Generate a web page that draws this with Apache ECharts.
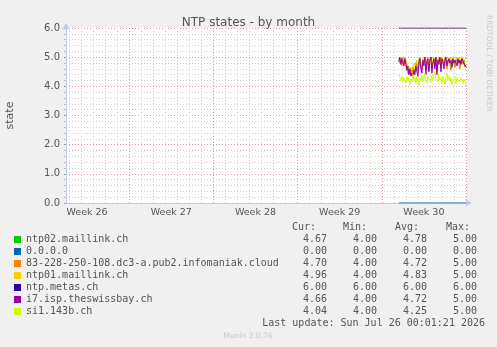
<!DOCTYPE html>
<html>
<head>
<meta charset="utf-8">
<script src="https://cdn.jsdelivr.net/npm/echarts@6/dist/echarts.min.js"></script>
<style>
html,body{margin:0;padding:0;background:#f0f0f0;}
#chart{width:497px;height:347px;}
</style>
</head>
<body>
<div id="chart"></div>
<script>
// ---- data ----
const title = 'NTP states - by month';
const yAxisName = 'state';
const weekLabels = ['Week 26', 'Week 27', 'Week 28', 'Week 29', 'Week 30'];
const binCount = 401;          // 2-hour bins across the plot
const offsetBins = 21;         // bins from the start of Week 26 to the left edge
const binsPerDay = 12;
const binsPerWeek = 84;
const startBin = 332;          // first bin with data

const seriesNames = ['ntp02.maillink.ch', '0.0.0.0', '83-228-250-108.dc3-a.pub2.infomaniak.cloud',
  'ntp01.maillink.ch', 'ntp.metas.ch', 'i7.isp.theswissbay.ch', 'si1.143b.ch'];
const seriesColors = ['#00cc00', '#0066b3', '#ff8000', '#ffcc00', '#330099', '#990099', '#ccff00'];

const ntp02 = [4.95,5.0,4.8,4.9,5.0,4.75,4.9,4.85,4.7,4.55, 4.6,4.45,4.6,4.5,4.65,4.7,4.5,4.8,4.85,4.6,
  4.9,5.0,4.75,4.6,4.85,4.8,5.0,4.65,4.9,4.95, 4.6,4.9,5.0,4.7,4.85,4.95,4.75,5.0,4.55,4.9,
  4.85,5.0,4.75,4.95,4.9,4.7,5.0,4.9,4.8,4.9, 4.95,4.85,4.7,4.9,4.95,4.9,4.75,4.85,4.95,4.8,
  4.9,4.75,4.85,4.95,4.8,4.9,4.75,4.67];
const zeroHost = [0,0,0,0,0,0,0,0,0,0, 0,0,0,0,0,0,0,0,0,0, 0,0,0,0,0,0,0,0,0,0, 0,0,0,0,0,0,0,0,0,0,
  0,0,0,0,0,0,0,0,0,0, 0,0,0,0,0,0,0,0,0,0, 0,0,0,0,0,0,0,0];
const infomaniak = [4.9,4.8,4.95,4.7,5.0,4.85,4.75,4.9,4.6,4.45, 4.55,4.4,4.5,4.35,4.6,4.45,4.55,4.6,4.75,4.5,
  4.7,4.9,4.65,4.55,4.8,4.75,4.9,4.6,4.8,4.95, 4.55,4.85,4.95,4.65,4.75,4.9,4.7,4.95,4.5,4.85,
  4.8,4.95,4.65,4.9,4.8,4.7,4.95,4.9,4.6,4.8, 4.9,4.75,4.55,4.8,4.9,4.85,4.65,4.8,4.9,4.75,
  4.85,4.6,4.8,4.9,4.75,4.85,4.65,4.70];
const ntp01 = [5.0,4.95,4.9,5.0,4.85,4.9,5.0,4.95,4.8,4.6, 4.7,4.5,4.65,4.55,4.7,4.8,4.6,4.75,4.9,4.7,
  4.85,5.0,4.8,4.7,4.95,4.85,5.0,4.75,4.9,5.0, 4.7,4.95,5.0,4.8,4.9,5.0,4.85,5.0,4.7,4.95,
  4.9,5.0,4.8,5.0,4.95,4.85,5.0,4.95,4.9,4.95, 5.0,4.9,5.0,4.85,5.0,4.95,5.0,4.9,4.85,5.0,
  4.95,4.9,5.0,4.95,5.0,4.9,4.85,4.96];
const metas = [6,6,6,6,6,6,6,6,6,6, 6,6,6,6,6,6,6,6,6,6, 6,6,6,6,6,6,6,6,6,6, 6,6,6,6,6,6,6,6,6,6,
  6,6,6,6,6,6,6,6,6,6, 6,6,6,6,6,6,6,6,6,6, 6,6,6,6,6,6,6,6];
const swissbay = [4.85,5.0,4.75,4.95,4.9,4.7,4.95,5.0,4.55,4.7, 4.4,4.6,4.35,4.45,4.3,4.55,4.4,4.7,4.5,4.35,
  4.8,4.95,4.6,4.45,4.9,4.7,5.0,4.4,4.85,4.95, 4.5,4.9,5.0,4.45,4.8,4.95,4.6,5.0,4.4,4.9,
  4.75,5.0,4.5,4.95,4.85,4.6,4.9,5.0,4.7,4.85, 4.95,4.8,4.9,4.65,4.95,4.8,4.9,4.85,4.7,4.95,
  4.8,4.9,4.75,4.95,4.85,4.9,4.7,4.66];
const si1 = [4.4,4.3,4.2,4.35,4.15,4.3,4.25,4.1,4.35,4.2, 4.3,4.05,4.25,4.15,4.4,4.2,4.3,4.1,4.35,4.25,
  4.05,4.3,4.2,4.4,4.15,4.3,4.45,4.2,4.1,4.35, 4.25,4.3,4.15,4.4,4.2,4.35,4.5,4.25,4.3,4.15,
  4.4,4.2,4.3,4.1,4.35,4.25,4.05,4.3,4.45,4.2, 4.35,4.15,4.3,4.05,4.25,4.2,4.35,4.1,4.3,4.2,
  4.25,4.15,4.3,4.2,4.1,4.25,4.15,4.04];
const seriesValues = [ntp02, zeroHost, infomaniak, ntp01, metas, swissbay, si1];

const statHeaders = ['Cur:', 'Min:', 'Avg:', 'Max:'];
const curVals = ['4.67', '0.00', '4.70', '4.96', '6.00', '4.66', '4.04'];
const minVals = ['4.00', '0.00', '4.00', '4.00', '6.00', '4.00', '4.00'];
const avgVals = ['4.78', '0.00', '4.72', '4.83', '6.00', '4.72', '4.25'];
const maxVals = ['5.00', '0.00', '5.00', '5.00', '6.00', '5.00', '5.00'];
const lastUpdate = 'Last update: Sun Jul 26 00:01:21 2026';
const footer = 'Munin 2.0.76';
const sideText = 'RRDTOOL / TOBI OETIKER';

// ---- build ----
const categories = Array.from({length: binCount}, (_, i) => i);
function placeSeries(vals) {
  const arr = new Array(binCount).fill(null);
  vals.forEach((v, k) => { arr[startBin + k] = v; });
  return arr;
}

const mono = 'DejaVu Sans Mono';
const sans = 'DejaVu Sans';
const textColor = '#555';
const axisColor = '#c0c8ee';
const redGrid = 'rgba(225,110,110,0.75)';
const grayGrid = '#cfcfcf';

function txt(x, y, text, font, fill, align) {
  return {type: 'text', x: x, y: y,
    style: {text: text, font: font, fill: fill, align: align, verticalAlign: 'middle',
      textAlign: align, textVerticalAlign: 'middle'}};
}
const graphics = [];
const headerRight = [316, 367, 419, 470];
const colRight = [327, 377, 427, 477];
statHeaders.forEach((h, c) => graphics.push(txt(headerRight[c], 227, h, '10px ' + mono, textColor, 'right')));
[curVals, minVals, avgVals, maxVals].forEach((col, c) => {
  col.forEach((v, r) => graphics.push(txt(colRight[c], 239.5 + 12 * r, v, '10px ' + mono, textColor, 'right')));
});
graphics.push(txt(485, 323.5, lastUpdate, '10px ' + mono, textColor, 'right'));
graphics.push(txt(248, 336, footer, '7.5px ' + sans, '#c8c8c8', 'center'));
const side = txt(488.5, 15, sideText, '7.5px ' + sans, '#c8c8c8', 'left');
side.rotation = -Math.PI / 2;
graphics.push(side);

const chart = echarts.init(document.getElementById('chart'), null, {renderer: 'canvas'});
chart.setOption({
  animation: false,
  backgroundColor: '#f0f0f0',
  title: {text: title, left: 'center', top: 12,
    textStyle: {fontFamily: sans, fontSize: 12, fontWeight: 'normal', color: textColor}},
  grid: {left: 66, right: 30, top: 28, bottom: 144, show: true, backgroundColor: '#ffffff', borderWidth: 0,
    containLabel: false, outerBoundsMode: 'none'},
  legend: {
    orient: 'vertical', left: 14, top: 233.5, padding: 0, itemGap: 0,
    itemWidth: 7, itemHeight: 7, icon: 'rect', selectedMode: false,
    textStyle: {fontFamily: mono, fontSize: 10, color: textColor, lineHeight: 12},
    data: seriesNames
  },
  xAxis: [{
    type: 'category', data: categories, boundaryGap: false,
    axisLine: {show: false},
    axisTick: {show: false},
    axisLabel: {
      interval: (i) => (offsetBins + i) % binsPerWeek === binsPerWeek / 2,
      formatter: (v, i) => weekLabels[Math.floor((offsetBins + Number(v)) / binsPerWeek)],
      fontFamily: sans, fontSize: 9.5, color: textColor, margin: 5
    },
    splitLine: {show: true,
      interval: (i) => (offsetBins + i) % binsPerDay === 0 && (offsetBins + i) % binsPerWeek !== 0,
      lineStyle: {color: grayGrid, width: 1, type: [1, 2]}}
  }, {
    type: 'category', data: categories, boundaryGap: false, position: 'bottom', z: 3,
    axisLine: {show: true, lineStyle: {color: axisColor, width: 1}, symbol: ['none', 'arrow'], symbolSize: [6, 7], symbolOffset: [0, 5]},
    axisTick: {show: false}, axisLabel: {show: false},
    splitLine: {show: true,
      interval: (i) => (offsetBins + i) % binsPerWeek === 0,
      lineStyle: {color: redGrid, width: 1, type: [1, 2]}}
  }],
  yAxis: {
    type: 'value', min: 0, max: 6, interval: 1,
    name: yAxisName, nameLocation: 'middle', nameGap: 50, nameRotate: 90,
    nameTextStyle: {fontFamily: sans, fontSize: 11, color: textColor},
    axisLine: {show: true, lineStyle: {color: axisColor, width: 1}, symbol: ['none', 'arrow'], symbolSize: [6, 7], symbolOffset: [0, 5]},
    axisTick: {show: true, length: 2, lineStyle: {color: '#999'}},
    minorTick: {show: true, splitNumber: 5, length: 2, lineStyle: {color: '#bbb'}},
    axisLabel: {formatter: (v) => v.toFixed(1), fontFamily: sans, fontSize: 10, color: textColor, margin: 6},
    splitLine: {show: true, lineStyle: {color: redGrid, width: 1, type: [1, 2]}},
    minorSplitLine: {show: true, lineStyle: {color: grayGrid, width: 1, type: [1, 2]}}
  },
  series: seriesNames.map((name, s) => ({
    name: name, type: 'line', xAxisIndex: 0, data: placeSeries(seriesValues[s]),
    showSymbol: false, symbol: 'none', color: seriesColors[s],
    lineStyle: {width: 1, color: seriesColors[s]}, connectNulls: false
  })),
  graphic: graphics
});
</script>
</body>
</html>
